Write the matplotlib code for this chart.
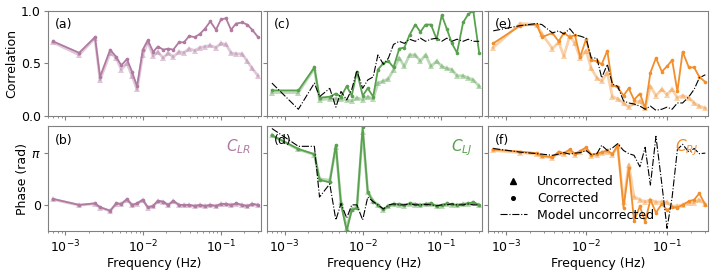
import numpy as np
import matplotlib
matplotlib.use("Agg")
import matplotlib.pyplot as plt
from matplotlib.lines import Line2D

# frequency bins (Hz), shared by all panels
freqs = [6.9e-4, 1.50e-3, 2.40e-3, 2.79e-3, 3.77e-3, 4.51e-3, 5.24e-3, 6.20e-3,
         7.19e-3, 8.36e-3, 9.9e-3, 1.15e-2, 1.35e-2, 1.55e-2, 1.82e-2, 2.11e-2,
         2.45e-2, 2.90e-2, 3.37e-2, 3.92e-2, 4.64e-2, 5.39e-2, 6.27e-2, 7.35e-2,
         8.70e-2, 0.101, 0.117, 0.136, 0.158, 0.189, 0.220, 0.255, 0.303]

# correlation magnitudes
lr_corr = [0.71, 0.60, 0.75, 0.37, 0.63, 0.56, 0.48, 0.54, 0.42, 0.28, 0.63, 0.72,
           0.61, 0.66, 0.63, 0.64, 0.63, 0.70, 0.70, 0.76, 0.75, 0.78, 0.83, 0.90,
           0.82, 0.92, 0.93, 0.82, 0.88, 0.89, 0.87, 0.82, 0.75]
lr_unc = [0.70, 0.58, 0.74, 0.34, 0.60, 0.55, 0.44, 0.50, 0.38, 0.25, 0.58, 0.70,
          0.57, 0.61, 0.55, 0.60, 0.56, 0.61, 0.60, 0.64, 0.62, 0.65, 0.66, 0.67,
          0.65, 0.69, 0.68, 0.60, 0.59, 0.59, 0.52, 0.45, 0.38]

lj_corr = [0.24, 0.24, 0.46, 0.17, 0.18, 0.21, 0.18, 0.28, 0.19, 0.42, 0.19, 0.26,
           0.18, 0.44, 0.50, 0.52, 0.46, 0.64, 0.65, 0.77, 0.87, 0.80, 0.87, 0.87,
           0.73, 0.96, 0.83, 0.69, 0.60, 0.89, 0.97, 1.00, 0.60]
lj_unc = [0.22, 0.22, 0.45, 0.15, 0.16, 0.16, 0.16, 0.15, 0.14, 0.17, 0.15, 0.18,
          0.16, 0.31, 0.33, 0.35, 0.44, 0.55, 0.47, 0.58, 0.58, 0.52, 0.58, 0.47,
          0.52, 0.47, 0.45, 0.44, 0.38, 0.38, 0.36, 0.34, 0.28]
lj_model = [0.31, 0.06, 0.31, 0.18, 0.26, 0.08, 0.23, 0.15, 0.25, 0.43, 0.26, 0.34,
            0.37, 0.58, 0.49, 0.55, 0.68, 0.71, 0.69, 0.73, 0.71, 0.74, 0.71, 0.73,
            0.74, 0.71, 0.74, 0.71, 0.73, 0.71, 0.73, 0.71, 0.71]

rj_corr = [0.69, 0.86, 0.87, 0.75, 0.79, 0.71, 0.79, 0.75, 0.77, 0.56, 0.73, 0.53,
           0.52, 0.49, 0.62, 0.29, 0.27, 0.19, 0.26, 0.15, 0.21, 0.07, 0.41, 0.55,
           0.42, 0.47, 0.53, 0.23, 0.61, 0.46, 0.46, 0.37, 0.32]
rj_unc = [0.65, 0.88, 0.87, 0.78, 0.64, 0.70, 0.57, 0.76, 0.69, 0.55, 0.62, 0.45,
          0.36, 0.33, 0.41, 0.18, 0.16, 0.12, 0.08, 0.12, 0.14, 0.07, 0.28, 0.19,
          0.25, 0.20, 0.25, 0.17, 0.19, 0.17, 0.12, 0.09, 0.07]
rj_model = [0.81, 0.86, 0.88, 0.87, 0.79, 0.81, 0.78, 0.83, 0.77, 0.76, 0.74, 0.55,
            0.55, 0.36, 0.49, 0.30, 0.28, 0.14, 0.12, 0.11, 0.09, 0.06, 0.09, 0.05,
            0.06, 0.08, 0.06, 0.12, 0.12, 0.18, 0.25, 0.36, 0.39]

# phases (rad)
lr_phase_corr = [0.36, 0.00, 0.09, -0.14, -0.35, 0.09, 0.06, 0.35, 0.00, 0.09, 0.31,
                 -0.14, -0.06, 0.25, 0.19, 0.00, 0.25, 0.00, 0.00, 0.00, -0.06, 0.00,
                 -0.06, 0.00, -0.06, 0.06, 0.06, 0.00, 0.09, 0.00, -0.06, 0.06, 0.00]
lr_phase_unc = [0.33, -0.02, 0.07, -0.16, -0.37, 0.07, 0.04, 0.32, -0.02, 0.07, 0.28,
                -0.16, -0.08, 0.22, 0.17, -0.02, 0.22, -0.02, -0.02, -0.02, -0.08, -0.02,
                -0.08, -0.02, -0.08, 0.04, 0.04, -0.02, 0.06, -0.02, -0.08, 0.04, -0.02]

lj_phase_corr = [4.18, 3.36, 3.05, 1.51, 1.35, 3.61, 0.06, -1.55, -0.31, -0.19, 4.66,
                 0.75, 0.19, 0.00, -0.25, -0.06, 0.06, 0.06, 0.00, 0.09, 0.06, 0.00,
                 0.06, 0.09, -0.06, 0.00, 0.09, 0.03, 0.00, 0.06, 0.09, 0.16, 0.00]
lj_phase_unc = [4.18, 3.33, 3.02, 1.57, 1.48, 3.45, 0.16, -1.40, -0.25, -0.12, 4.40,
                0.80, 0.25, -0.03, -0.31, -0.09, 0.03, 0.00, -0.06, 0.06, 0.00, -0.03,
                0.03, 0.06, -0.09, -0.06, 0.06, 0.00, -0.03, 0.03, 0.06, 0.12, -0.03]
lj_phase_model = [4.59, 3.52, 3.52, 0.47, 1.26, -0.91, 0.09, -0.79, 0.00, 0.00, -0.91,
                  0.47, 0.19, 0.00, -0.25, 0.00, 0.06, 0.00, 0.00, 0.06, 0.00, 0.00,
                  0.03, 0.00, -0.06, 0.00, 0.00, 0.06, 0.00, 0.00, 0.06, 0.00, 0.00]

rj_phase_corr = [3.33, 3.20, 3.11, 2.95, 2.86, 3.20, 3.11, 3.33, 3.08, 3.24, 3.46,
                 3.02, 3.08, 3.17, 3.27, 3.05, 3.58, -0.16, 2.20, -0.94, -0.09, -1.01,
                 0.31, -0.47, 0.06, -0.31, -0.13, -0.16, 0.00, 0.22, 0.31, 0.69, 0.00]
rj_phase_unc = [3.27, 3.14, 3.05, 2.92, 2.83, 3.14, 3.05, 3.24, 3.02, 3.17, 3.36,
                2.95, 3.02, 3.11, 3.20, 3.02, 3.52, 0.16, 2.42, 0.50, 0.31, 0.19,
                0.31, 0.16, 0.19, 0.16, -0.09, -0.06, 0.00, 0.13, 0.13, 0.31, 0.06]
rj_phase_model = [3.39, 3.17, 3.08, 3.05, 2.98, 3.05, 3.14, 3.05, 3.11, 3.14, 3.27,
                  3.02, 3.08, 3.58, 3.27, 3.42, 3.68, 3.27, 3.08, 2.98, 2.29, 3.46,
                  1.19, 4.12, 1.26, -1.41, 0.47, 3.33, 3.64, 3.17, 3.39, 3.08, 3.11]

pair_names = ['$C_{LR}$', '$C_{LJ}$', '$C_{RJ}$']
colors = ['#b07aa1', '#59a14f', '#f28e2b']


def draw(ax, color, corr, unc, model=None):
    ax.plot(freqs, unc, '-^', color=color, alpha=0.4, lw=2.0, ms=5, mew=0)
    ax.plot(freqs, corr, '-o', color=color, lw=1.3, ms=2.6, mew=0)
    if model is not None:
        ax.plot(freqs, model, '-.', color='black', lw=0.8)


def main():
    plt.rcParams['font.size'] = 9
    fig, axes = plt.subplots(2, 3, figsize=(7.14, 2.72), dpi=100, sharex=True,
                             sharey='row',
                             gridspec_kw=dict(width_ratios=[212.7, 215, 220]))
    fig.subplots_adjust(left=0.0676, right=0.992, bottom=0.1507, top=0.9596,
                        wspace=0.029, hspace=0.105)

    draw(axes[0, 0], colors[0], lr_corr, lr_unc)
    draw(axes[0, 1], colors[1], lj_corr, lj_unc, lj_model)
    draw(axes[0, 2], colors[2], rj_corr, rj_unc, rj_model)
    draw(axes[1, 0], colors[0], lr_phase_corr, lr_phase_unc)
    draw(axes[1, 1], colors[1], lj_phase_corr, lj_phase_unc, lj_phase_model)
    draw(axes[1, 2], colors[2], rj_phase_corr, rj_phase_unc, rj_phase_model)

    for ax, lab in zip(axes.T.flatten(), ['(a)', '(b)', '(c)', '(d)', '(e)', '(f)']):
        ax.text(0.03, 0.93, lab, transform=ax.transAxes, va='top', ha='left', fontsize=9)
        for sp in ax.spines.values():
            sp.set_color('0.5')
        ax.tick_params(which='major', color='0.5', length=3, pad=2.2)
        ax.tick_params(which='minor', color='0.5', length=1.7)

    for j in range(3):
        axes[1, j].text(0.955, 0.9, pair_names[j], transform=axes[1, j].transAxes,
                        ha='right', va='top', color=colors[j], fontsize=11)
        axes[1, j].set_xlabel('Frequency (Hz)', labelpad=1.5)

    ax0 = axes[0, 0]
    ax0.set_xscale('log')
    ax0.set_xlim(6.0e-4, 0.33)
    ax0.set_ylim(0, 1)
    ax0.set_yticks([0, 0.5, 1.0])
    ax0.set_ylabel('Correlation', labelpad=2)
    axes[1, 0].set_ylim(-np.pi / 2, 3 * np.pi / 2)
    axes[1, 0].set_yticks([0, np.pi])
    axes[1, 0].set_yticklabels(['0', r'$\pi$'])
    axes[1, 0].set_ylabel('Phase (rad)', labelpad=2)

    handles = [Line2D([], [], marker='^', color='k', ls='none', ms=5),
               Line2D([], [], marker='o', color='k', ls='none', ms=2.6),
               Line2D([], [], ls='-.', color='k', lw=0.8)]
    axes[1, 2].legend(handles, ['Uncorrected', 'Corrected', 'Model uncorrected'],
                      loc='lower left', frameon=False, fontsize=9,
                      bbox_to_anchor=(0.0, -0.02), handlelength=2.2, labelspacing=0.3)

    fig.savefig('out.png', dpi=100)


if __name__ == "__main__":
    main()
